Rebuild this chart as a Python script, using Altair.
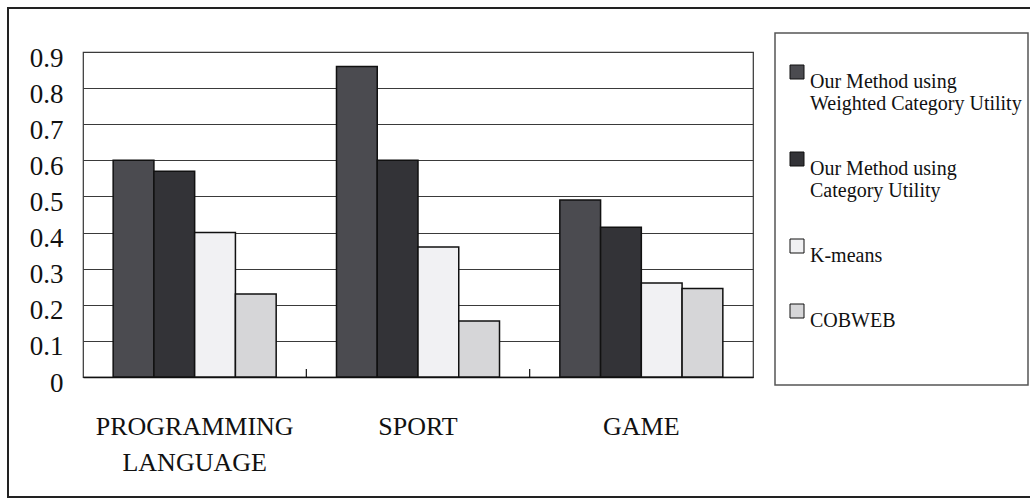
import altair as alt
import pandas as pd

categories = ["PROGRAMMING LANGUAGE", "SPORT", "GAME"]
methods = [
    "Our Method using Weighted Category Utility",
    "Our Method using Category Utility",
    "K-means",
    "COBWEB",
]
weighted_cu = [0.60, 0.86, 0.49]
category_utility = [0.57, 0.60, 0.415]
kmeans = [0.40, 0.36, 0.26]
cobweb = [0.23, 0.155, 0.245]
y_ticks = [0, 0.1, 0.2, 0.3, 0.4, 0.5, 0.6, 0.7, 0.8, 0.9]
colors = ["#4b4b50", "#333337", "#f1f1f3", "#d6d6d8"]

series = [weighted_cu, category_utility, kmeans, cobweb]
rows = []
for m, vals in zip(methods, series):
    for c, v in zip(categories, vals):
        rows.append({"category": c, "method": m, "value": v})
df = pd.DataFrame(rows)

W, H = 670, 325
FONT = "Liberation Serif"

x_enc = alt.X(
    "category:N",
    sort=categories,
    scale=alt.Scale(paddingInner=0, paddingOuter=0),
    axis=alt.Axis(
        title=None,
        labelAngle=0,
        labelFont=FONT,
        labelFontSize=26,
        labelColor="#111",
        labelPadding=36,
        labelLineHeight=36,
        labelLimit=500,
        ticks=False,
        domainColor="#111",
        domainWidth=1.5,
        labelExpr="datum.value == 'PROGRAMMING LANGUAGE' ? ['PROGRAMMING', 'LANGUAGE'] : datum.value",
    ),
)

label_expr = (
    "datum.label == 'Our Method using Weighted Category Utility' ? ['Our Method using', 'Weighted Category Utility'] : "
    "datum.label == 'Our Method using Category Utility' ? ['Our Method using', 'Category Utility'] : datum.label"
)

bars = alt.Chart(df).mark_bar(stroke="#111", strokeWidth=1.5, opacity=1).encode(
    x=x_enc,
    xOffset=alt.XOffset(
        "method:N", sort=methods,
        scale=alt.Scale(paddingInner=0, paddingOuter=0.74),
    ),
    y=alt.Y(
        "value:Q",
        scale=alt.Scale(domain=[0, 0.9], nice=False),
        axis=alt.Axis(
            title=None,
            values=y_ticks,
            format="~g",
            labelFont=FONT,
            labelFontSize=27,
            labelColor="#111",
            labelPadding=20,
            labelOffset=6,
            ticks=False,
            domain=False,
            grid=True,
            gridColor="#3a3a3a",
            gridWidth=1.2,
        ),
    ),
    color=alt.Color(
        "method:N",
        sort=methods,
        scale=alt.Scale(domain=methods, range=colors),
        legend=alt.Legend(
            title=None,
            orient="none",
            legendX=704,
            legendY=10,
            symbolType="square",
            symbolSize=196,
            symbolStrokeColor="#111",
            symbolStrokeWidth=1,
            symbolOpacity=1,
            labelFont=FONT,
            labelFontSize=20,
            labelColor="#111",
            labelLimit=400,
            labelOffset=3,
            labelBaseline="top",
            rowPadding=35,
            padding=0,
            labelExpr=label_expr,
        ),
    ),
)

tick_df = pd.DataFrame({"category": categories[1:]})
ticks = alt.Chart(tick_df).mark_rule(color="#111", strokeWidth=1.2).encode(
    x=alt.X("category:N", sort=categories, bandPosition=0),
    y=alt.value(H - 8),
    y2=alt.value(H),
)

one = pd.DataFrame({"k": [0]})
legend_box = alt.Chart(one).mark_rect(filled=False, stroke="#555", strokeWidth=1.5).encode(
    x=alt.value(692), x2=alt.value(945), y=alt.value(-19), y2=alt.value(333)
)
frame = alt.Chart(one).mark_rect(filled=False, stroke="#222", strokeWidth=2).encode(
    x=alt.value(-75), x2=alt.value(960), y=alt.value(-44), y2=alt.value(445)
)

chart = alt.layer(bars, ticks, legend_box, frame).properties(
    width=W,
    height=H,
    autosize=alt.AutoSizeParams(type="none"),
    padding={"left": 83, "top": 52, "right": 277, "bottom": 123},
    background="white",
).configure_view(stroke="#333", strokeWidth=1.2)

chart.save("out.html", embed_options={"renderer": "svg", "actions": False})
